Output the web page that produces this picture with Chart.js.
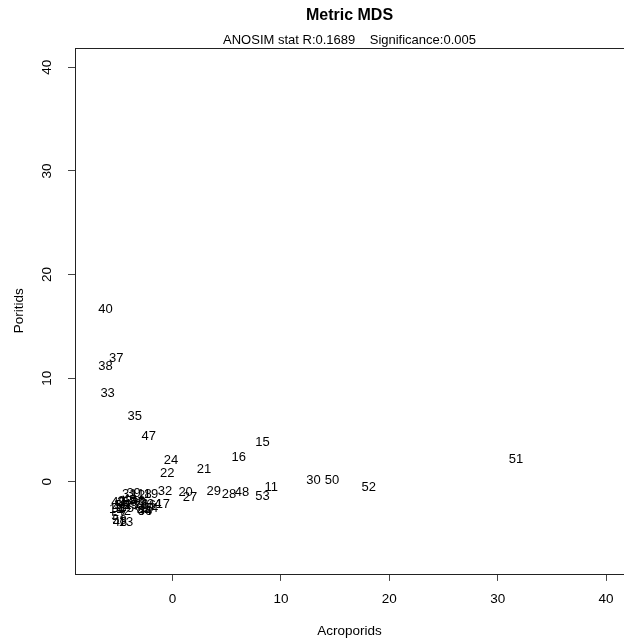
<!DOCTYPE html>
<html>
<head>
<meta charset="utf-8">
<script src="https://cdn.jsdelivr.net/npm/chart.js@4.4.0/dist/chart.umd.min.js"></script>
<style>
  html, body { margin: 0; padding: 0; background: #fff; }
  canvas { display: block; }
</style>
</head>
<body>
<canvas id="mdsChart" width="624" height="639"></canvas>
<script>
const ctx_mds = document.querySelector('#mdsChart').getContext('2d');

// sample number written at each point
const sample_labels = [
    '40', '37', '38', '33', '35', '47', '24', '22', '21', '16', '15', '11', '53', '48', '28', '29',
    '20', '27', '32', '17', '30', '50', '52', '51',
    // the crowded bunch bottom left
    '31', '12', '18', '19', '39',
    '1', '2', '3', '4', '5', '6', '7', '8', '9', '10', '14', '23', '25', '26', '34', '36',
    '41', '42', '44', '45', '46', '49', '54', '55', '56',
    '57', '13', '43', '58',
];
// x = Acroporids, y = Poritids
const acroporids = [
    -6.2, -5.2, -6.2, -6.0, -3.5, -2.2, -0.15, -0.5, 2.9, 6.1, 8.3, 9.1, 8.3, 6.4, 5.2, 3.8,
    1.2, 1.6, -0.7, -0.9, 13.0, 14.7, 18.1, 31.7,
    -4.0, -3.2, -2.6, -2.0, -3.6,
    -5.1, -4.8, -4.6, -4.2, -3.9, -3.6, -3.3, -3.0, -2.7, -2.4, -5.2, -4.4, -3.8, -2.9, -1.7, -2.2,
    -4.9, -4.5, -2.6, -4.0, -3.2, -5.0, -2.0, -4.7, -2.55,
    -5.0, -4.3, -4.85, -4.9,
];
const poritids = [
    16.6, 11.9, 11.1, 8.5, 6.3, 4.4, 2.1, 0.8, 1.2, 2.4, 3.8, -0.5, -1.4, -1.05, -1.25, -0.95,
    -1.05, -1.5, -0.95, -2.2, 0.1, 0.1, -0.5, 2.2,
    -1.2, -1.3, -1.2, -1.2, -1.1,
    -2.3, -2.0, -2.6, -2.2, -2.6, -2.0, -2.4, -2.7, -2.1, -2.6, -2.7, -1.9, -2.3, -2.2, -2.2, -2.3,
    -2.5, -2.9, -2.9, -1.8, -1.9, -2.0, -2.6, -2.3, -2.85,
    -3.3, -3.9, -3.9, -3.75,
];
const x_ticks = [0, 10, 20, 30, 40];
const y_ticks = [0, 10, 20, 30, 40];

const font_family = "'Liberation Sans', Arial, sans-serif";
Chart.defaults.font.family = font_family;
Chart.defaults.color = '#000';

let points = [];
for (let i = 0; i < sample_labels.length; i++) {
    points.push({x: acroporids[i], y: poritids[i]});
}

// writes the sample numbers where the points are (R text() style)
const textLabels = {
    id: 'textLabels',
    afterDatasetsDraw(chart) {
        const ctx = chart.ctx;
        const meta = chart.getDatasetMeta(0);
        ctx.save();
        ctx.font = '13px ' + font_family;
        ctx.fillStyle = '#000';
        ctx.textAlign = 'center';
        ctx.textBaseline = 'middle';
        meta.data.forEach((pt, i) => {
            ctx.fillText(sample_labels[i], pt.x, pt.y);
        });
        ctx.restore();
    }
};

// box round the plot + rotated y tick labels
const boxAndYLabels = {
    id: 'boxAndYLabels',
    afterDraw(chart) {
        const {ctx, chartArea} = chart;
        ctx.save();
        ctx.strokeStyle = '#222';
        ctx.lineWidth = 1;
        ctx.strokeRect(Math.round(chartArea.left) + 0.5, Math.round(chartArea.top) + 0.5,
            chartArea.right - chartArea.left + 10, Math.round(chartArea.bottom - chartArea.top));

        const ys = chart.scales.y;
        ctx.font = '13.5px ' + font_family;
        ctx.fillStyle = '#000';
        ctx.textAlign = 'center';
        ctx.textBaseline = 'middle';
        y_ticks.forEach(v => {
            ctx.save();
            ctx.translate(47, ys.getPixelForValue(v));
            ctx.rotate(-Math.PI / 2);
            ctx.fillText(String(v), 0, 0);
            ctx.restore();
        });
        ctx.restore();
    }
};

const config_mds = {
    type: 'scatter',
    data: {
        datasets: [{
            data: points,
            pointRadius: 0,
            pointHoverRadius: 0,
            showLine: false,
        }]
    },
    options: {
        responsive: false,
        animation: false,
        layout: { padding: 0 },
        plugins: {
            legend: { display: false },
            tooltip: { enabled: false },
            title: {
                display: true,
                text: 'Metric MDS',
                fullSize: false,
                color: '#000',
                font: { size: 16, weight: 'bold' },
                padding: { top: 6, bottom: 7 },
            },
            subtitle: {
                display: true,
                text: 'ANOSIM stat R:0.1689    Significance:0.005',
                fullSize: false,
                color: '#000',
                font: { size: 13 },
                padding: { top: 0, bottom: 0 },
            },
        },
        scales: {
            x: {
                type: 'linear',
                min: -9.01,
                max: 41.66,
                afterBuildTicks: (scale) => { scale.ticks = x_ticks.map(v => ({value: v})); },
                border: { display: false },
                grid: { drawOnChartArea: false, drawTicks: true, tickLength: 7, color: '#444' },
                ticks: { font: { size: 13.5 }, color: '#000', padding: 10, maxRotation: 0, autoSkip: false },
                title: {
                    display: true,
                    text: 'Acroporids',
                    color: '#000',
                    font: { size: 13.5 },
                    padding: { top: 5.7, bottom: 0 },
                },
            },
            y: {
                type: 'linear',
                min: -8.88,
                max: 41.88,
                afterBuildTicks: (scale) => { scale.ticks = y_ticks.map(v => ({value: v})); },
                border: { display: false },
                grid: { drawOnChartArea: false, drawTicks: true, tickLength: 7, color: '#444' },
                ticks: { display: false },
                title: {
                    display: true,
                    text: 'Poritids',
                    color: '#000',
                    font: { size: 13.5 },
                    padding: { top: 10.9, bottom: 40.9 },
                },
            },
        },
    },
    plugins: [textLabels, boxAndYLabels],
};

new Chart(ctx_mds, config_mds);
</script>
</body>
</html>
